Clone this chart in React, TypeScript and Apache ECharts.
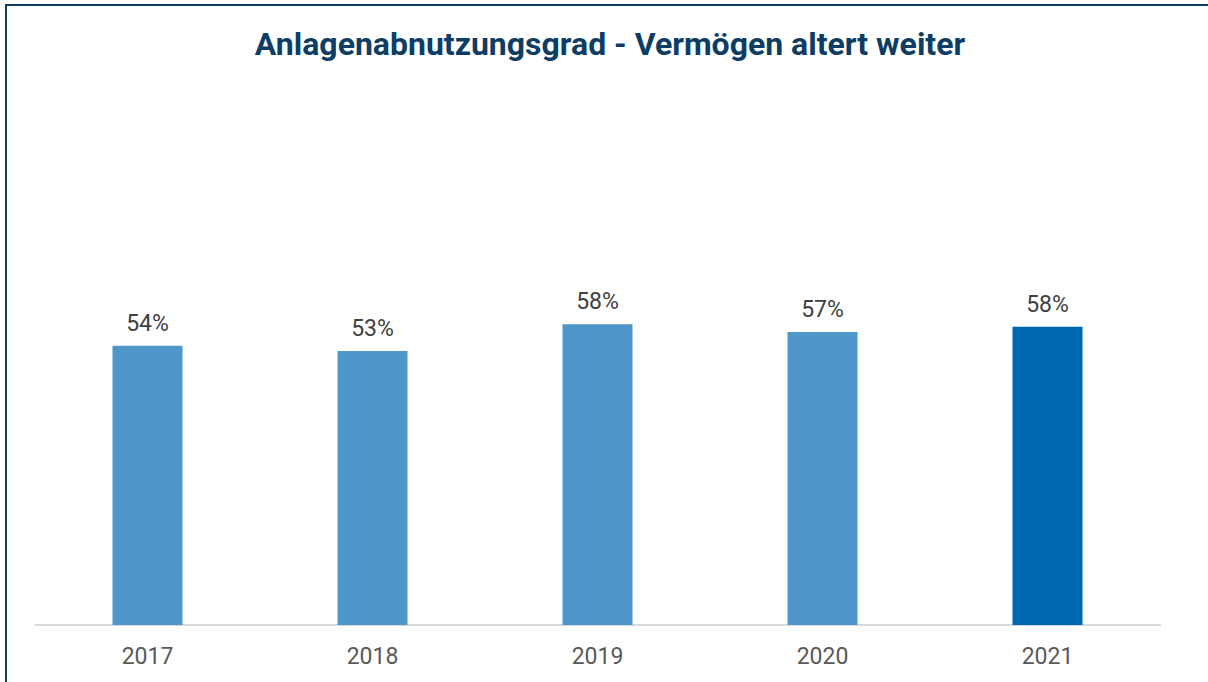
import React, { useEffect, useRef } from "react";
import * as echarts from "echarts";

const categories = ["2017", "2018", "2019", "2020", "2021"];
const values = [54.1, 53.1, 58.3, 56.8, 57.8];
const labels = ["54%", "53%", "58%", "57%", "58%"];
const barColors = ["#4f97ca", "#4f97ca", "#4f97ca", "#4f97ca", "#0068b1"];
const title = "Anlagenabnutzungsgrad - Vermögen altert weiter";

export default function App() {
  const ref = useRef<HTMLDivElement>(null);
  useEffect(() => {
    document.body.style.margin = "0";
    const chart = echarts.init(ref.current!, null, { renderer: "svg" });
    chart.setOption({
      animation: false,
      backgroundColor: "#ffffff",
      graphic: [
        { type: "line", shape: { x1: 5, y1: 5, x2: 1208, y2: 5 }, style: { stroke: "#0d3d64", lineWidth: 2 } },
        { type: "line", shape: { x1: 6, y1: 4, x2: 6, y2: 682 }, style: { stroke: "#0d3d64", lineWidth: 2 } },
        {
          type: "text",
          x: 610,
          y: 44,
          style: {
            text: title,
            textAlign: "center",
            textVerticalAlign: "middle",
            fontFamily: "Roboto",
            fontWeight: "bold",
            fontSize: 32,
            fill: "#0d3d64",
          },
        },
      ],
      grid: { left: 35, right: 48, top: 109, bottom: 57, containLabel: false },
      xAxis: {
        type: "category",
        data: categories,
        axisLine: { show: true, lineStyle: { color: "#d9d9d9", width: 2 } },
        axisTick: { show: false },
        axisLabel: {
          fontFamily: "Roboto",
          fontSize: 23,
          color: "#595959",
          margin: 20,
        },
      },
      yAxis: {
        type: "value",
        min: 0,
        max: 100,
        show: false,
        splitLine: { show: false },
      },
      series: [
        {
          type: "bar",
          barWidth: 70,
          data: values.map((v, i) => ({
            value: v,
            itemStyle: { color: barColors[i] },
          })),
          label: {
            show: true,
            position: "top",
            distance: 11,
            fontFamily: "Roboto",
            fontSize: 23,
            color: "#404040",
            formatter: (p: any) => labels[p.dataIndex],
          },
        },
      ],
    });
    return () => chart.dispose();
  }, []);
  return (
    <div
      ref={ref}
      style={{ position: "absolute", left: 0, top: 0, width: 1208, height: 682 }}
    />
  );
}
